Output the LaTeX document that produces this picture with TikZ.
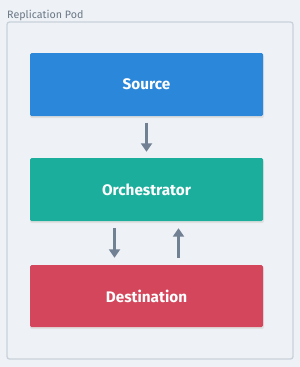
\documentclass[tikz,border=0pt]{standalone}
\usepackage{fontspec}
\setmainfont{Fira Sans}
\usetikzlibrary{arrows.meta}
\definecolor{bg}{HTML}{EEF2F6}
\definecolor{podborder}{HTML}{C9D1DB}
\definecolor{podlabel}{HTML}{6B7785}
\definecolor{srcblue}{HTML}{2B87D9}
\definecolor{orchteal}{HTML}{1BAE9C}
\definecolor{destred}{HTML}{D3465B}
\definecolor{arrowgrey}{HTML}{718093}
\tikzset{
  comp/.style={rectangle, rounded corners=1.5pt, minimum width=233pt, minimum height=63pt,
    text=white, font=\fontsize{15.3}{17}\selectfont\bfseries, inner sep=0pt},
  shadowbox/.style={fill=black!12, rounded corners=2pt},
  flow/.style={draw=arrowgrey, line width=2.8pt, -{Triangle[length=8.5pt,width=11pt]}},
}
\begin{document}
\begin{tikzpicture}[x=1pt,y=-1pt]
\useasboundingbox[fill=bg] (0,0) rectangle (300,367);
\node[anchor=base west, text=podlabel, font=\fontsize{10.7}{12}\selectfont, inner sep=0pt] (lbl) at (7,18) {Replication Pod};
\draw[podborder, line width=1.3pt, rounded corners=2.5pt] (7,22) rectangle (293,359);
% shadows
\fill[shadowbox] (30,55) rectangle (264,118);
\fill[shadowbox] (30,160) rectangle (264,223);
\fill[shadowbox] (30,267) rectangle (264,329);
\node[comp, fill=srcblue] (src) at (146.5,84.5) {Source};
\node[comp, fill=orchteal] (orch) at (146.5,189.5) {Orchestrator};
\node[comp, fill=destred, minimum height=62pt] (dest) at (146.5,296) {Destination};
\draw[flow] ([yshift=-6.5pt]src.south) -- ([yshift=6pt]orch.north);
\draw[flow] ([xshift=-32pt,yshift=-7pt]orch.south) -- ([xshift=-32pt,yshift=7pt]dest.north);
\draw[flow] ([xshift=32pt,yshift=7pt]dest.north) -- ([xshift=32pt,yshift=-7pt]orch.south);
\end{tikzpicture}
\end{document}
